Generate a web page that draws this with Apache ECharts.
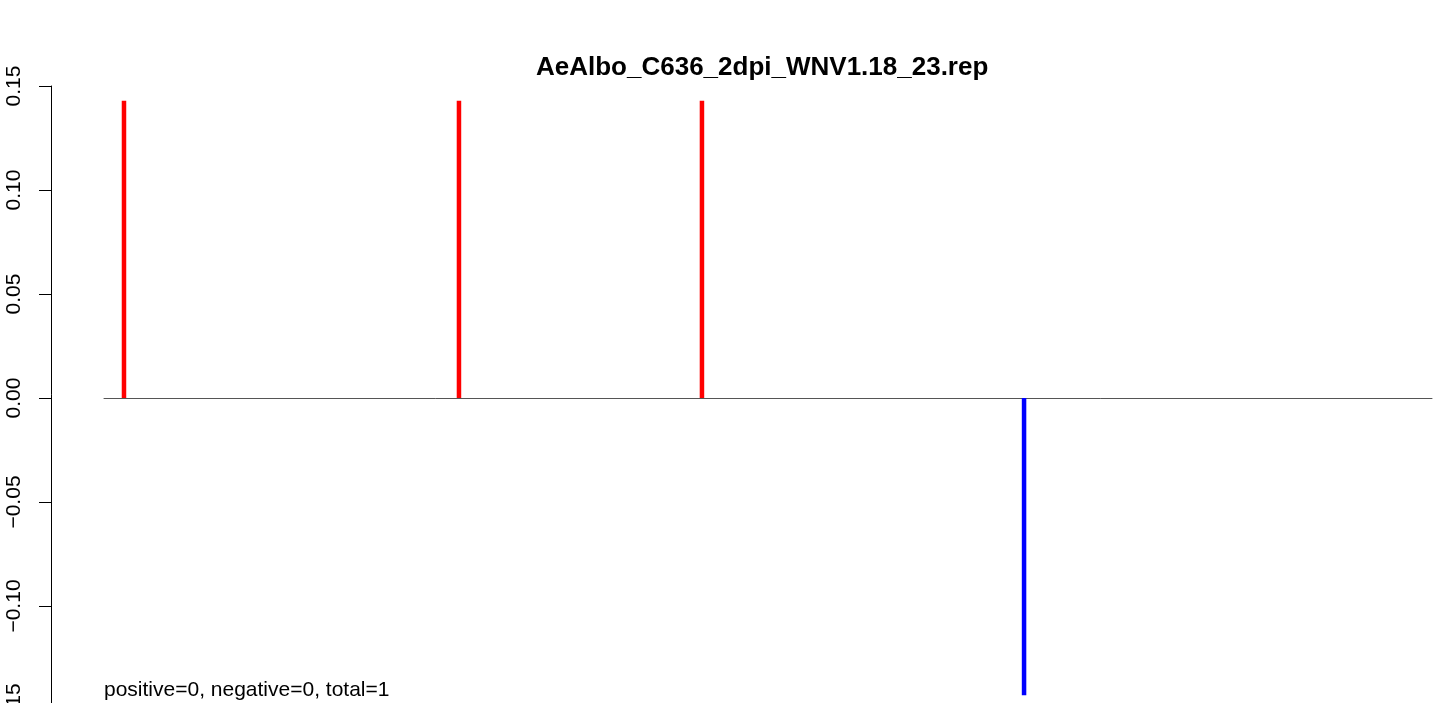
<!DOCTYPE html>
<html><head><meta charset="utf-8">
<script src="https://cdn.jsdelivr.net/npm/echarts@6/dist/echarts.min.js"></script>
<style>html,body{margin:0;padding:0;background:#fff}#c{width:1439px;height:703px}</style>
</head><body><div id="c"></div>
<script>
const titleText = "AeAlbo_C636_2dpi_WNV1.18_23.rep";
const noteText = "positive=0, negative=0, total=1";
const positions = [166, 2948, 4966, 7641];
const values = [0.1429, 0.1429, 0.1429, -0.1429];
const yTicks = [-0.15, -0.10, -0.05, 0.00, 0.05, 0.10, 0.15];

const chart = echarts.init(document.getElementById('c'), null, {renderer: 'canvas'});
const font = '"Liberation Sans", Arial, sans-serif';
chart.setOption({
  animation: false,
  backgroundColor: '#fff',
  grid: {left: 104, top: 86, width: 1328, height: 624, containLabel: false, outerBoundsMode: 'none'},
  xAxis: {
    type: 'value', min: 0, max: 11029,
    axisLine: {show: true, onZero: true, lineStyle: {color: '#555', width: 1}},
    axisTick: {show: false}, axisLabel: {show: false}, splitLine: {show: false}
  },
  yAxis: {
    type: 'value', min: -0.15, max: 0.15, interval: 0.05, offset: 53,
    axisLine: {show: true, onZero: false, lineStyle: {color: '#000', width: 1}},
    axisTick: {show: true, length: 12, lineStyle: {color: '#000', width: 1}},
    axisLabel: {rotate: 90, margin: 26, fontSize: 21, fontFamily: font, color: '#000',
      formatter: v => { const s = Math.abs(v).toFixed(2); return v < -1e-9 ? '\u2212' + s : s; }},
    splitLine: {show: false}
  },
  series: [{
    type: 'bar', barWidth: 4.5,
    data: positions.map((p, i) => ({value: [p, values[i]], itemStyle: {color: values[i] >= 0 ? '#ff0000' : '#0000ff'}}))
  }],
  graphic: [
    {type: 'text', top: 55, left: 536, style: {text: titleText, font: 'bold 26px ' + font, fill: '#000'}},
    {type: 'text', left: 104, top: 680, style: {text: noteText, font: '21px ' + font, fill: '#000'}}
  ]
});
</script></body></html>
